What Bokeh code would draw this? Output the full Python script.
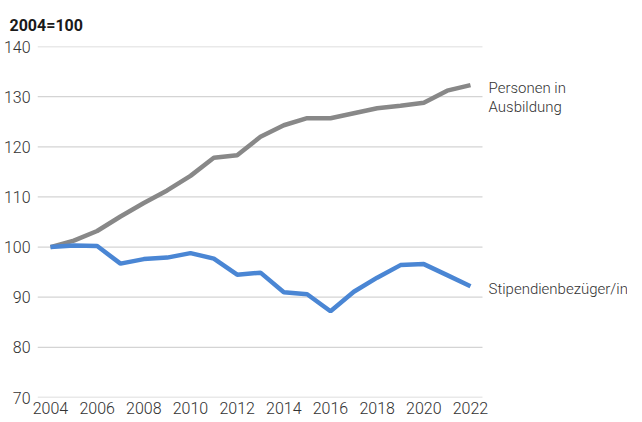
from bokeh.plotting import figure
from bokeh.models import Label, Range1d, FixedTicker, Title
from bokeh.embed import file_html
from bokeh.resources import INLINE

years = list(range(2004, 2023))
personen = [100, 101.3, 103.2, 106.1, 108.8, 111.3, 114.2, 117.8, 118.3, 122.0, 124.3,
            125.7, 125.7, 126.7, 127.7, 128.2, 128.8, 131.2, 132.3]
stipendien = [100, 100.3, 100.2, 96.7, 97.6, 97.9, 98.8, 97.7, 94.5, 94.9, 91.0,
              90.6, 87.2, 91.1, 93.9, 96.4, 96.6, 94.4, 92.2]
y_ticks = [70, 80, 90, 100, 110, 120, 130, 140]
x_ticks = list(range(2004, 2023, 2))

FONT = "Roboto Light"
TXT = "#333333"
GRID_X0, GRID_X1 = 2003.443, 2022.514

p = figure(frame_width=590, frame_height=351, output_backend="svg", toolbar_location=None,
           x_range=Range1d(2003.443, 2028.729), y_range=Range1d(70, 140),
           min_border_left=36, min_border_right=0, min_border_top=46, min_border_bottom=4,
           title=None)
p.outline_line_color = None
p.xgrid.grid_line_color = None
p.ygrid.grid_line_color = None
p.yaxis.ticker = FixedTicker(ticks=y_ticks)
p.xaxis.ticker = FixedTicker(ticks=x_ticks)
for ax in (p.xaxis, p.yaxis):
    ax.axis_line_color = None
    ax.major_tick_line_color = None
    ax.minor_tick_line_color = None
    ax.major_tick_out = 0
    ax.major_tick_in = 0
    ax.minor_tick_out = 0
    ax.major_label_text_font = FONT
    ax.major_label_text_font_size = "16px"
    ax.major_label_text_color = TXT
p.yaxis.major_label_standoff = 7
p.xaxis.major_label_standoff = 4

p.segment(x0=[GRID_X0] * len(y_ticks), x1=[GRID_X1] * len(y_ticks), y0=y_ticks, y1=y_ticks,
          line_color="#d4d4d4", line_width=1.3)

p.line(years, personen, line_color="#888888", line_width=4.5)
p.line(years, stipendien, line_color="#4a86d4", line_width=4.5)

def lab(x, y, text):
    p.add_layout(Label(x=x, y=y, text=text, text_font=FONT, text_font_size="15px",
                       text_color=TXT, text_baseline="middle", text_align="left"))

lab(2022.772, 131.8, "Personen in")
lab(2022.772, 128.0, "Ausbildung")
lab(2022.772, 91.6, "Stipendienbezüger/in")

t = Title(text="2004=100", align="left", offset=-28, text_font="Roboto", text_font_size="16px",
          text_font_style="bold", text_color="#1a1a1a", standoff=23)
p.add_layout(t, "above")

open("out.html", "w").write(file_html(p, INLINE))
